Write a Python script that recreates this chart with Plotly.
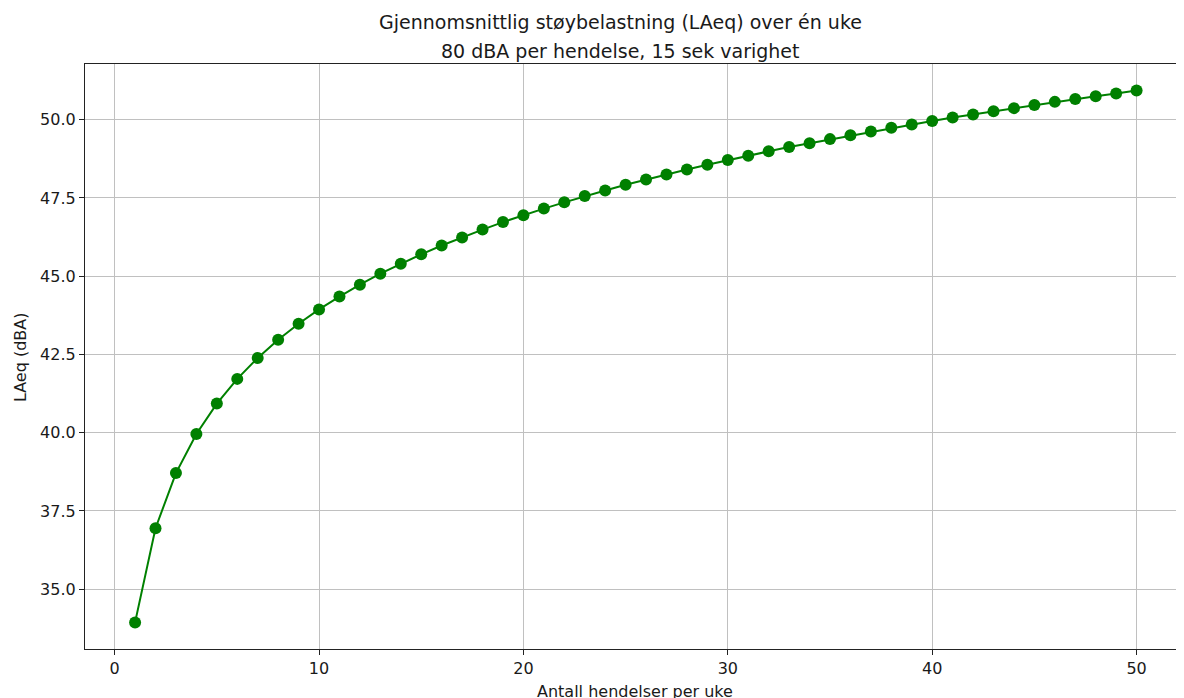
import plotly.graph_objects as go

events = list(range(1, 51))
laeq = [33.94, 36.95, 38.71, 39.96, 40.93, 41.72, 42.39, 42.97, 43.48, 43.94,
        44.35, 44.73, 45.08, 45.40, 45.70, 45.98, 46.24, 46.49, 46.73, 46.95,
        47.16, 47.36, 47.56, 47.74, 47.92, 48.09, 48.25, 48.41, 48.56, 48.71,
        48.85, 48.99, 49.13, 49.25, 49.38, 49.50, 49.62, 49.74, 49.85, 49.96,
        50.07, 50.17, 50.27, 50.37, 50.47, 50.57, 50.66, 50.75, 50.84, 50.93]
x_ticks = [0, 10, 20, 30, 40, 50]
y_ticks = [35.0, 37.5, 40.0, 42.5, 45.0, 47.5, 50.0]

title1 = "Gjennomsnittlig støybelastning (LAeq) over én uke"
title2 = "80 dBA per hendelse, 15 sek varighet"
xlabel = "Antall hendelser per uke"
ylabel = "LAeq (dBA)"

font = "DejaVu Sans"
txt = "#1a1a1a"

fig = go.Figure()
fig.add_trace(go.Scatter(
    x=events, y=laeq, mode="lines+markers",
    line=dict(color="#008000", width=2),
    marker=dict(color="#008000", size=12),
    showlegend=False,
    cliponaxis=False,
))

fig.update_layout(
    width=1176, height=690,
    margin=dict(l=77, r=0, t=56, b=49),
    paper_bgcolor="white", plot_bgcolor="white",
    font=dict(family=font, color=txt, size=16),
    xaxis=dict(
        range=[-1.45, 52.32], tickvals=x_ticks,
        ticktext=[str(v) for v in x_ticks],
        showgrid=True, gridcolor="#c0c0c0", gridwidth=1,
        showline=True, linecolor="#222222", linewidth=1.2, mirror=True,
        ticks="outside", ticklen=5, tickcolor="#222222",
        zeroline=False, tickfont=dict(size=16, color=txt),
    ),
    yaxis=dict(
        range=[33.09, 51.78], tickvals=y_ticks,
        ticktext=[f"{v:.1f}" for v in y_ticks],
        showgrid=True, gridcolor="#c0c0c0", gridwidth=1,
        showline=True, linecolor="#222222", linewidth=1.2, mirror=False,
        ticks="outside", ticklen=5, tickcolor="#222222",
        zeroline=False, tickfont=dict(size=16, color=txt),
    ),
    annotations=[
        dict(text=title1, xref="paper", yref="paper", x=0.4877, y=1.0718,
             xanchor="center", yanchor="middle", showarrow=False,
             font=dict(size=19, family=font, color=txt)),
        dict(text=title2, xref="paper", yref="paper", x=0.4877, y=1.0222,
             xanchor="center", yanchor="middle", showarrow=False,
             font=dict(size=19, family=font, color=txt)),
        dict(text=xlabel, xref="paper", yref="paper", x=0.5005, y=-0.0735,
             xanchor="center", yanchor="middle", showarrow=False,
             font=dict(size=16, family=font, color=txt)),
        dict(text=ylabel, xref="paper", yref="paper", x=-0.0591, y=0.4991,
             xanchor="center", yanchor="middle", showarrow=False, textangle=-90,
             font=dict(size=16, family=font, color=txt)),
    ],
)

fig.write_html("out.html")
